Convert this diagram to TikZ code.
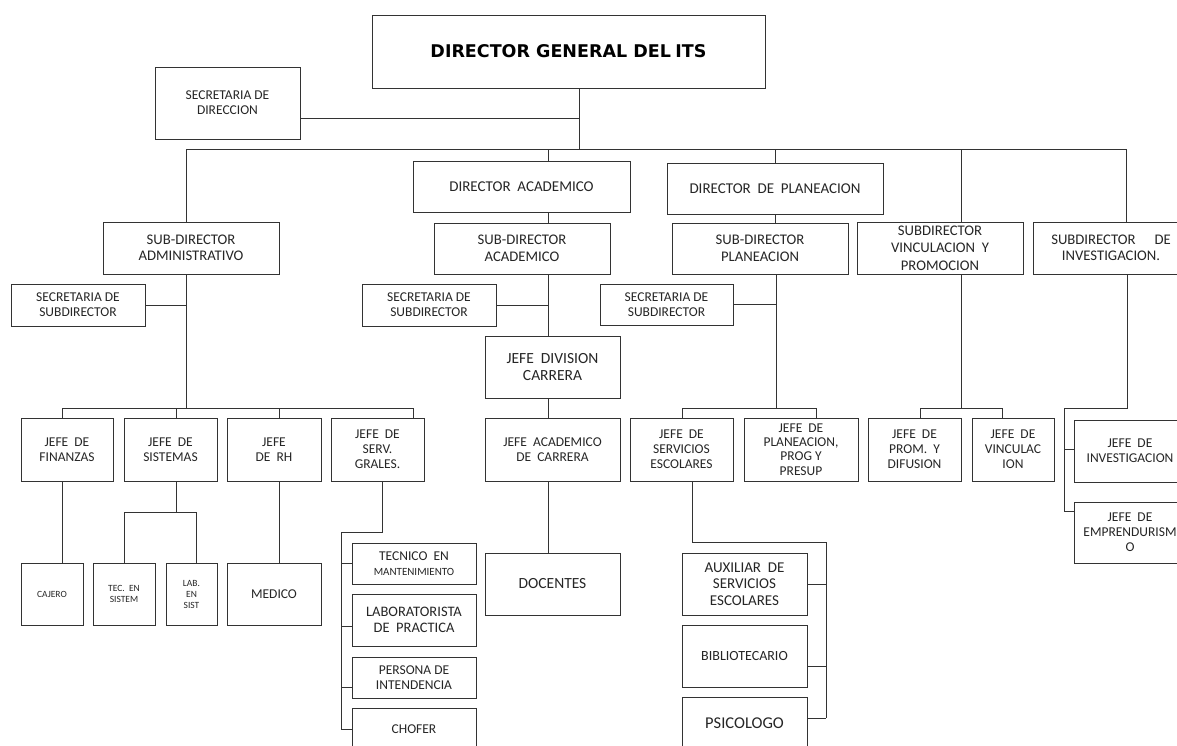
\documentclass[tikz,border=0pt]{standalone}
\usepackage{fontspec}
\setmainfont{Carlito}
\newfontfamily\titlefont{DejaVu Sans}
\newcommand\lbl{\fontsize{13.5}{14.8}\selectfont}
\newcommand\lblmid{\fontsize{14.7}{16.5}\selectfont}
\newcommand\lblbig{\fontsize{15.5}{17}\selectfont}
\newcommand\lblsmall{\fontsize{9.5}{11}\selectfont}
\tikzset{
  box/.style={draw=black!80, line width=1pt, fill=white, inner sep=0pt, align=center, font=\lbl, text=black!85},
  conn/.style={draw=black!80, line width=1pt},
}
\newcommand\bx[7][]{%
  \pgfmathsetmacro\bxcx{(#3+#5)/2}\pgfmathsetmacro\bxcy{(#4+#6)/2}%
  \pgfmathsetmacro\bxw{#5-#3}\pgfmathsetmacro\bxh{#6-#4}%
  \node[box,minimum width=\bxw pt,minimum height=\bxh pt,#1] (#2) at (\bxcx,\bxcy) {#7};}
\begin{document}
\begin{tikzpicture}[x=1pt,y=-1pt]
\useasboundingbox[fill=white] (0,0) rectangle (1177,745);
% top level
\bx[font=\titlefont\bfseries\fontsize{17.5}{19}\selectfont, text=black]{DG}{372}{15}{765}{88}{DIRECTOR GENERAL DEL\hspace{4.5pt}ITS}
\bx{SD}{155}{67}{300}{139}{SECRETARIA DE\\DIRECCION}
\bx[font=\fontsize{15}{17}\selectfont]{DA}{413}{161}{630}{212}{DIRECTOR\ \ ACADEMICO}
\bx[font=\fontsize{15}{17}\selectfont]{DP}{667}{163}{883}{214}{DIRECTOR\ \ DE\ \ PLANEACION}
% sub-directors
\bx[font=\lblmid]{SA}{103}{222}{279}{274}{SUB-DIRECTOR\\ADMINISTRATIVO}
\bx[font=\lblmid]{SAC}{434}{223}{610}{274}{SUB-DIRECTOR\\ACADEMICO}
\bx[font=\lblmid]{SP}{672}{223}{848}{274}{SUB-DIRECTOR\\PLANEACION}
\bx[font=\fontsize{14.7}{17.5}\selectfont]{SV}{857}{222}{1023}{274}{SUBDIRECTOR\\VINCULACION\ \ Y\\PROMOCION}
\bx[font=\lblmid]{SI}{1033}{222}{1189}{274}{SUBDIRECTOR\hspace{19pt}DE\\INVESTIGACION.}
% secretaries
\bx{SSA}{11}{284}{145}{326}{SECRETARIA DE\\SUBDIRECTOR}
\bx{SSAC}{362}{284}{496}{326}{SECRETARIA DE\\SUBDIRECTOR}
\bx{SSP}{600}{284}{733}{325}{SECRETARIA DE\\SUBDIRECTOR}
% academic column
\bx[font=\lblbig]{JDC}{485}{336}{620}{398}{JEFE\ \ DIVISION\\CARRERA}
\bx{JAC}{485}{418}{620}{481}{JEFE\ \ ACADEMICO\\DE\ \ CARRERA}
\bx[font=\lblbig]{DOC}{485}{553}{620}{615}{DOCENTES}
% admin heads
\bx{JF}{21}{418}{113}{481}{JEFE\ \ DE\\FINANZAS}
\bx{JS}{124}{418}{217}{481}{JEFE\ \ DE\\SISTEMAS}
\bx{JRH}{227}{418}{321}{481}{JEFE\\DE\ \ RH}
\bx{JSG}{331}{418}{424}{481}{JEFE\ \ DE\\SERV.\\GRALES.}
\bx[font=\lblsmall]{CAJ}{21}{563}{83}{625}{CAJERO}
\bx[font=\lblsmall]{TEC}{93}{563}{155}{625}{TEC.\ \ EN\\SISTEM}
\bx[font=\lblsmall]{LAB}{166}{563}{217}{625}{LAB.\\EN\\SIST}
\bx[font=\fontsize{13.5}{15}\selectfont]{MED}{227}{563}{321}{625}{MEDICO}
\bx{TM}{352}{543}{476}{584}{TECNICO\ \ EN\\{\fontsize{11}{12}\selectfont MANTENIMIENTO}}
\bx[font=\fontsize{14.5}{16}\selectfont]{LP}{352}{594}{476}{646}{LABORATORISTA\\DE\ \ PRACTICA}
\bx{PI}{352}{657}{476}{698}{PERSONA DE\\INTENDENCIA}
\bx{CH}{352}{708}{476}{750}{CHOFER}
% planning heads
\bx{JSE}{630}{418}{733}{481}{JEFE\ \ DE\\SERVICIOS\\ESCOLARES}
\bx[font=\fontsize{13.5}{14.3}\selectfont]{JP}{744}{418}{858}{481}{JEFE\ \ DE\\PLANEACION,\\PROG Y\\PRESUP}
\bx[font=\fontsize{15}{16.5}\selectfont]{AUX}{682}{553}{807}{615}{AUXILIAR\ \ DE\\SERVICIOS\\ESCOLARES}
\bx[font=\fontsize{14}{16}\selectfont]{BIB}{682}{625}{807}{687}{BIBLIOTECARIO}
\bx[font=\fontsize{16.5}{18}\selectfont]{PSI}{682}{697}{807}{749}{PSICOLOGO}
% vinculacion / investigacion
\bx{JPD}{868}{418}{961}{481}{JEFE\ \ DE\\PROM.\ \ Y\\DIFUSION}
\bx{JV}{972}{418}{1054}{481}{JEFE\ \ DE\\VINCULAC\\ION}
\bx{JI}{1074}{420}{1186}{482}{JEFE\ \ DE\\INVESTIGACION}
\bx{JE}{1074}{502}{1186}{563}{JEFE\ \ DE\\EMPRENDURISM\\O}
% ---------------- connectors
\coordinate (g) at (579,149);
\coordinate (sdj) at (579,118);
\coordinate (bL) at (186,149);
\coordinate (bR) at (1126,149);
\draw[conn] (g |- DG.south) -- (g);
\draw[conn] (SD.east |- sdj) -- (sdj);
\draw[conn] (SA.north -| bL) -- (bL) -- (bR) -- (SI.north -| bR);
\draw[conn] (548,149) -- (DA.north -| 548,0);
\draw[conn] (775,149) -- (DP.north -| 775,0);
\draw[conn] (961,149) -- (SV.north -| 961,0);
% academic
\draw[conn] (DA.south -| 548,0) -- (SAC.north -| 548,0);
\draw[conn] (SAC.south -| 548,0) -- (JDC.north -| 548,0);
\draw[conn] (SSAC.east) -- (SSAC.east -| 548,0);
\draw[conn] (JDC.south -| 548,0) -- (JAC.north -| 548,0);
\draw[conn] (JAC.south -| 548,0) -- (DOC.north -| 548,0);
% planning
\draw[conn] (DP.south -| 775,0) -- (SP.north -| 775,0);
\coordinate (pj) at (776,408);
\draw[conn] (SP.south -| pj) -- (pj);
\draw[conn] (SSP.east) -- (SSP.east -| pj);
\draw[conn] (JSE.north -| 682,0) |- (816,408) -- (JP.north -| 816,0);
\coordinate (se) at (826,542);
\draw[conn] (JSE.south -| 692,0) |- (se) -- (826,718);
\draw[conn] (AUX.east) -- (AUX.east -| se);
\draw[conn] (BIB.east |- 0,666) -- (826,666);
\draw[conn] (PSI.east |- 0,718) -- (826,718);
% admin
\coordinate (aj) at (186,408);
\draw[conn] (SA.south -| aj) -- (aj);
\draw[conn] (SSA.east) -- (SSA.east -| aj);
\draw[conn] (JF.north -| 62,0) |- (413,408) -- (JSG.north -| 413,0);
\draw[conn] (176,408) -- (JS.north -| 176,0);
\draw[conn] (279,408) -- (JRH.north -| 279,0);
\draw[conn] (JF.south -| 62,0) -- (CAJ.north -| 62,0);
\draw[conn] (JS.south -| 176,0) -- (176,512);
\draw[conn] (TEC.north -| 124,0) |- (196,512) -- (LAB.north -| 196,0);
\draw[conn] (JRH.south -| 279,0) -- (MED.north -| 279,0);
\coordinate (sg) at (341,532);
\draw[conn] (JSG.south -| 382,0) |- (sg) -- (341,729);
\draw[conn] (341,563) -- (TM.west |- 0,563);
\draw[conn] (341,626) -- (LP.west |- 0,626);
\draw[conn] (341,687) -- (PI.west |- 0,687);
\draw[conn] (341,729) -- (CH.west |- 0,729);
% vinculacion
\coordinate (vj) at (961,408);
\draw[conn] (SV.south -| vj) -- (vj);
\draw[conn] (JPD.north -| 920,0) |- (1002,408) -- (JV.north -| 1002,0);
% investigacion
\draw[conn] (SI.south -| 1127,0) |- (1064,408) -- (1064,511);
\draw[conn] (1064,449) -- (JI.west |- 0,449);
\draw[conn] (1064,511) -- (JE.west |- 0,511);
\end{tikzpicture}
\end{document}
